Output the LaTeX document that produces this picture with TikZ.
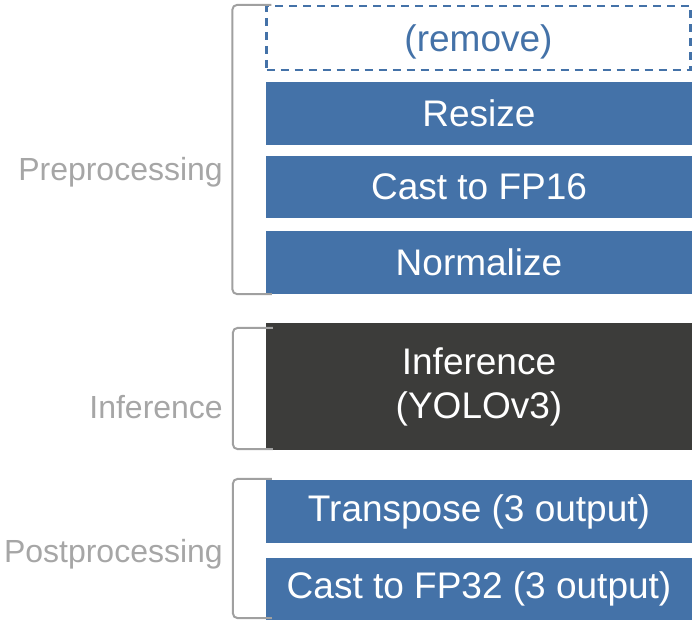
\documentclass[tikz,border=0pt]{standalone}
\usepackage{fontspec}
\setmainfont{Liberation Sans}
\usetikzlibrary{positioning}
\usetikzlibrary{calc}
\definecolor{stageblue}{RGB}{68,114,168}
\definecolor{infdark}{RGB}{60,60,58}
\definecolor{labgray}{RGB}{166,166,166}
\definecolor{brkgray}{RGB}{160,160,160}
\newcommand{\boxfont}{\fontsize{37}{44}\selectfont}
\newcommand{\grpfont}{\fontsize{32}{38}\selectfont}
\tikzset{stage/.style={fill=stageblue, text=white, font=\boxfont, minimum width=426pt, minimum height=63pt, inner sep=0pt, align=center}}
\tikzset{grp/.style={text=labgray, font=\grpfont, anchor=base east, inner sep=0pt}}
\tikzset{brk/.style={draw=brkgray, line width=2pt, rounded corners=5pt}}

\begin{document}
\begin{tikzpicture}[x=1pt, y=-1pt]
\useasboundingbox (0,0) rectangle (692,620);

%%% Preprocessing:

\node[stage, fill=none, draw=stageblue, line width=2.4pt, dash pattern=on 8pt off 6pt, text=stageblue, text depth=0pt, minimum width=424pt, minimum height=64pt] (rm) at (478.5,38) {(remove)};
\node[stage] (resize) at (479,113.5) {Resize};
\node[stage, minimum height=62pt] (fp16) at (479,187) {Cast to FP16};
\node[stage] (norm) at (479,262.5) {Normalize};

\draw[brk] ([xshift=6pt]rm.north west) -- ++(-39,0) |- ([xshift=6pt]norm.south west);
\node[grp] (pre) at (223,181) {Preprocessing};

%%% Inference:

\node[stage, fill=infdark, minimum height=127pt] (infer) at (479,386.5) {Inference\\(YOLOv3)};

\draw[brk] ([xshift=7pt,yshift=-5pt]infer.north west) -- ++(-40,0) |- ([xshift=7pt,yshift=1pt]infer.south west);
\node[grp] (inf) at (223,418) {Inference};

%%% Postprocessing:

\node[stage] (trans) at (479,511.5) {Transpose (3 output)};
\node[stage, minimum height=62pt] (fp32) at (479,589) {Cast to FP32 (3 output)};

\draw[brk] ([xshift=6pt,yshift=1pt]trans.north west) -- ++(-39,0) |- ([xshift=6pt,yshift=2pt]fp32.south west);
\node[grp] (post) at (223,562) {Postprocessing};

\end{tikzpicture}
\end{document}
